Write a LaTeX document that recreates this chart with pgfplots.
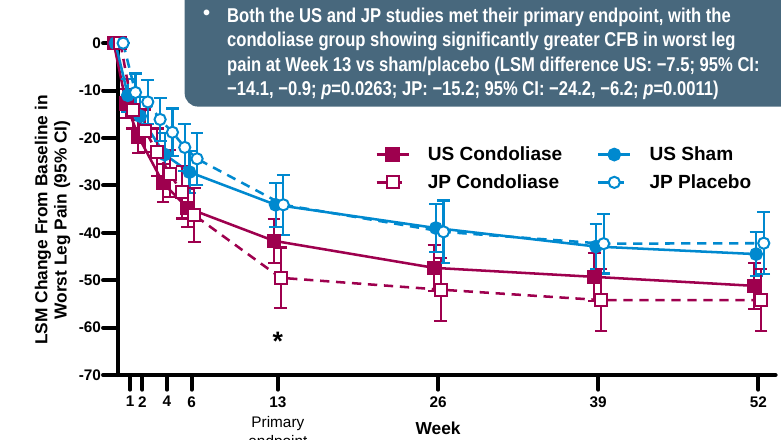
\documentclass[border=0pt]{standalone}
\usepackage{pgfplots}
\usepackage{pgfplotstable}
\pgfplotsset{compat=1.18}
\usepackage{fontspec}
\setmainfont{Liberation Sans}
\newfontfamily\narrowfont[FakeStretch=0.83]{Liberation Sans}
\definecolor{mag}{RGB}{158,0,78}
\definecolor{blu}{RGB}{0,137,207}
\definecolor{boxc}{RGB}{72,104,125}

\pgfplotstableread{
w m e
0 0 0
1 -12.7 3
2 -19.7 3.5
4 -29.5 4
6 -34.8 4
13 -41.7 4.6
26 -47.4 4.8
39 -49.3 5
52 -51.2 4.8
}\UScond
\pgfplotstableread{
w m e
0 0 0
1 -11 3.5
2 -15.4 4
4 -23.5 4.5
6 -27.2 4.5
13 -34.1 4.6
26 -39 5
39 -42.9 4.7
52 -44.5 4.7
}\USsham
\pgfplotstableread{
w m e
0 0 0
1 -14 4
2 -18.5 4.5
3 -23 5
4 -27.5 5
5 -31.5 5.5
6 -36.3 5.7
13 -49.5 6.4
26 -52 6.7
39 -54.2 6.6
52 -54.2 6.6
}\JPcond
\pgfplotstableread{
w m e
0 0 0
1 -10.4 4
2 -12.4 4.6
3 -16.1 4.5
4 -18.8 5
5 -22 5
6 -24.4 5.5
13 -34.1 6.3
26 -39.8 6.6
39 -42.3 6.3
52 -42.2 6.5
}\JPplac

\begin{document}
\begin{tikzpicture}
\begin{axis}[
  at={(88.3pt,48pt)}, anchor=south west,
  scale only axis, width=493.4pt, height=248.9pt,
  xmin=0, xmax=53.4, ymin=-70, ymax=0,
  axis x line=bottom, axis y line=left,
  axis line style={-, line width=3pt, line cap=round},
  xtick={1,2,4,6,13,26,39,52},
  ytick={-70,-60,-50,-40,-30,-20,-10,0},
  yticklabels={-70,-60,-50,-40,-30,-20,-10,0},
  tick align=outside, major tick length=11pt,
  tick style={line width=3pt, black, line cap=round},
  ticklabel style={font=\fontsize{11.5}{13}\selectfont\bfseries},
  /pgf/number format/assume math mode=true,
  xticklabel style={yshift=-1.5pt},
  yticklabel style={xshift=2pt},
  clip=false,
  legend columns=2,
  legend cell align=left,
  legend image code/.code={\draw[mark repeat=2,mark phase=2,#1] plot coordinates {(0pt,0pt) (12pt,0pt) (24pt,0pt)};},
  legend style={draw=none, fill=none, at={(rel axis cs:0.385,0.705)}, anchor=north west,
     font=\fontsize{14.3}{16}\selectfont\bfseries, row sep=5pt,
     nodes={inner xsep=13.5pt},
     /tikz/every even column/.append style={column sep=12.5pt}},
]
\addplot[mag, line width=1.9pt, mark=square*, mark size=4.5pt, mark options={solid, fill=mag},
  error bars/.cd, y dir=both, y explicit,
  error bar style={line width=1.6pt, solid},
  error mark options={rotate=90, mark size=4.8pt, line width=1.6pt, solid}]
  table[x expr=\thisrow{w}-0.32, y=m, y error=e] {\UScond};
\addlegendentry{US Condoliase}
\addplot[blu, line width=1.9pt, mark=*, mark size=4.2pt, mark options={solid, fill=blu},
  error bars/.cd, y dir=both, y explicit,
  error bar style={line width=1.6pt, solid},
  error mark options={rotate=90, mark size=4.8pt, line width=1.6pt, solid}]
  table[x expr=\thisrow{w}-0.18, y=m, y error=e] {\USsham};
\addlegendentry{US Sham}
\addplot[mag, line width=1.9pt, dash pattern=on 7pt off 5pt, mark=square*, mark size=4.5pt, mark options={solid, fill=white, line width=1.5pt},
  error bars/.cd, y dir=both, y explicit,
  error bar style={line width=1.6pt, solid},
  error mark options={rotate=90, mark size=4.8pt, line width=1.6pt, solid}]
  table[x expr=\thisrow{w}+0.22, y=m, y error=e] {\JPcond};
\addlegendentry{JP Condoliase}
\addplot[blu, line width=1.9pt, dash pattern=on 7pt off 5pt, mark=*, mark size=4.2pt, mark options={solid, fill=white, line width=1.5pt},
  error bars/.cd, y dir=both, y explicit,
  error bar style={line width=1.6pt, solid},
  error mark options={rotate=90, mark size=4.8pt, line width=1.6pt, solid}]
  table[x expr=\thisrow{w}+0.44, y=m, y error=e] {\JPplac};
\addlegendentry{JP Placebo}
\node[font=\fontsize{20}{20}\selectfont\bfseries] at (axis cs:13,-63) {*};
\node[font=\fontsize{11.5}{14}\selectfont, align=center, anchor=north] at (axis cs:13,-77.8) {Primary\\endpoint};
\node[font=\fontsize{13}{15}\selectfont\bfseries] at (axis cs:26,-81.2) {Week};
\node[rotate=90, align=center, font=\fontsize{13}{14.5}\selectfont\bfseries] at (rel axis cs:-0.099,0.467) {LSM Change From Baseline in\\Worst Leg Pain (95\% CI)};
\end{axis}
\fill[boxc, rounded corners=10pt] (138.5pt,249.3pt) rectangle (610pt,345pt);
\node[white, font=\fontsize{15}{18}\selectfont\bfseries] at (155pt,318pt) {•};
\begin{scope}[every node/.style={white, anchor=base west, inner sep=0pt, font=\narrowfont\fontsize{15}{18}\selectfont\bfseries}]
\node at (170.2pt,312.7pt) {Both the US and JP studies met their primary endpoint, with the};
\node at (170.2pt,294.3pt) {condoliase group showing significantly greater CFB in worst leg};
\node at (170.2pt,275.9pt) {pain at Week 13 vs sham/placebo (LSM difference US: −7.5; 95\% CI:};
\node at (170.2pt,257.5pt) {−14.1, −0.9; \textit{p}=0.0263; JP: −15.2; 95\% CI: −24.2, −6.2; \textit{p}=0.0011)};
\end{scope}
\pgfresetboundingbox
\path (0pt,0pt) rectangle (585.75pt,329.25pt);
\end{tikzpicture}
\end{document}
